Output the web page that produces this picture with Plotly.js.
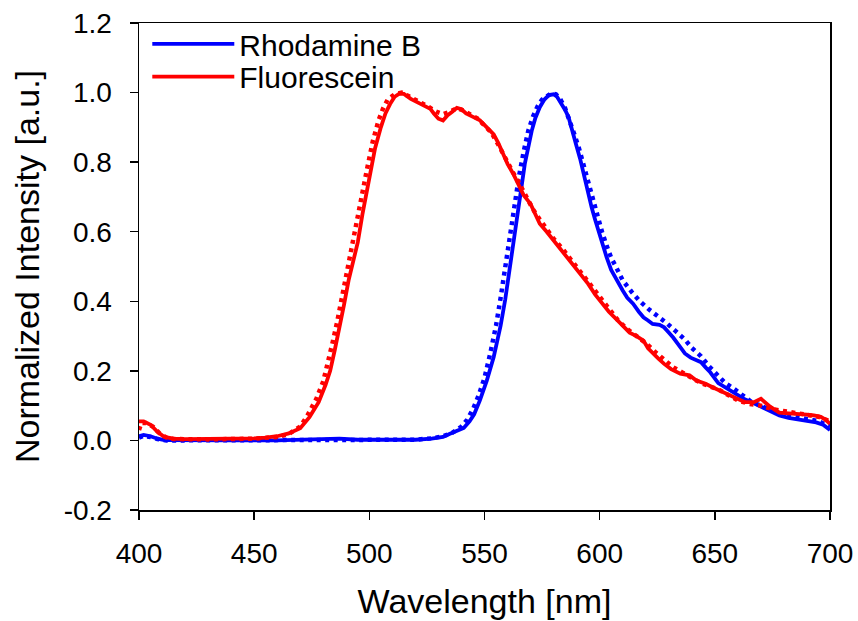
<!DOCTYPE html>
<html>
<head>
<meta charset="utf-8">
<script src="https://cdn.plot.ly/plotly-3.0.1.min.js"></script>
<style>html,body{margin:0;padding:0;background:#fff;}#chart{width:858px;height:621px;}</style>
</head>
<body>
<div id="chart"></div>
<script>
// Fluorescein, solid (measured)
const fluoSolidWl = [400,402,405,408,411,415,420,430,440,450,455,460,465,470,474,478,481,483,485,487,489,491,493,495,497,500,502.5,505,507,509,511,513,515,518,520,522,524,526.5,528,530,532,534,536,538,540,542,545,548,551,554,556,558,560,562.5,565,567,570,572,574,577,580,583,586,589,592,595,598,601,604,607,610,613,616,619,621,623,625.5,628,631,635,639,642,646,649,653,657,660,663,667,670,674,678,682,686,690,693,696,698,700];
const fluoSolidVal = [0.055,0.055,0.045,0.025,0.01,0.005,0.004,0.004,0.005,0.006,0.008,0.012,0.02,0.035,0.067,0.11,0.16,0.2,0.26,0.32,0.39,0.46,0.52,0.57,0.65,0.75,0.84,0.9,0.94,0.967,0.988,0.997,0.996,0.982,0.975,0.967,0.962,0.953,0.94,0.925,0.92,0.935,0.945,0.956,0.952,0.94,0.93,0.92,0.9,0.88,0.855,0.825,0.795,0.766,0.73,0.705,0.68,0.65,0.623,0.6,0.575,0.55,0.527,0.5,0.475,0.45,0.42,0.395,0.37,0.35,0.328,0.31,0.3,0.287,0.265,0.25,0.235,0.22,0.205,0.192,0.187,0.172,0.163,0.153,0.14,0.128,0.118,0.11,0.11,0.12,0.097,0.08,0.078,0.077,0.074,0.072,0.068,0.06,0.048];

// Fluorescein, dotted (reference)
const fluoDotWl = [400,401,403,406,409,412,415,430,450,460,465,470,473,477,480,482,484,486,488,490,492,494,496,499,501.5,504,506,508,511,514,517,520,523,526,529,532,535,538,541,544,547,550,553,556,559,562,565,568,571,574,577,580,584,588,592,596,600,604,608,612,616,620,624,628,632,636,640,644,648,652,656,660,665,670,675,680,685,690,695,700];
const fluoDotVal = [0.03,0.05,0.05,0.04,0.02,0.008,0.004,0.003,0.005,0.01,0.018,0.04,0.07,0.12,0.17,0.22,0.28,0.34,0.41,0.48,0.55,0.61,0.68,0.78,0.86,0.92,0.955,0.98,0.995,1.0,0.99,0.98,0.97,0.958,0.945,0.938,0.945,0.955,0.948,0.935,0.925,0.905,0.885,0.85,0.81,0.775,0.74,0.7,0.665,0.635,0.605,0.58,0.55,0.515,0.48,0.445,0.41,0.375,0.345,0.32,0.3,0.28,0.255,0.232,0.21,0.195,0.18,0.165,0.155,0.145,0.13,0.115,0.105,0.1,0.09,0.085,0.08,0.075,0.068,0.055];

// Rhodamine B, solid (measured)
const rhoSolidWl = [400,402,405,408,411,420,440,460,480,487,495,510,520,527,532,535,538,541,543.5,545.5,548,551,554,557,559,561,563,565.5,567.5,570.5,572,574,576,578,580,581.5,583.5,585,586.5,588.5,590,591.5,593.5,595,596.5,598,599.5,601.5,603,605,607,610,612,614.5,617,619,621,623,626,628,630,632,635,637,639.5,642,644,646,648,651.5,654,657,660,663,666,670,674,678,682,686,690,694,697,700];
const rhoSolidVal = [0.012,0.016,0.012,0.005,0.001,0.0,0.0,0.0,0.002,0.005,0.002,0.001,0.002,0.005,0.01,0.019,0.027,0.036,0.055,0.075,0.115,0.172,0.24,0.33,0.405,0.5,0.58,0.7,0.795,0.89,0.925,0.958,0.98,0.993,0.995,0.988,0.967,0.95,0.929,0.875,0.845,0.81,0.75,0.71,0.67,0.635,0.6,0.56,0.527,0.49,0.465,0.431,0.41,0.393,0.37,0.354,0.345,0.335,0.332,0.325,0.31,0.295,0.268,0.25,0.238,0.232,0.225,0.21,0.196,0.165,0.155,0.143,0.13,0.118,0.11,0.098,0.085,0.072,0.065,0.06,0.057,0.052,0.045,0.03];

// Rhodamine B, dotted (reference)
const rhoDotWl = [400,402,405,408,412,440,480,500,520,527,532,536,540,542.5,545,547.5,550,552.5,555,557,559,561,563,565,567,569,571,573,575,577,579,581,583,585,587,589,591,593,595,597,599,601,603,605,607,610,614,617.5,621.5,625.5,629.5,633,637,640,644,647.5,651,654.5,658,662,666,670,675,680,685,690,695,700];
const rhoDotVal = [0.008,0.013,0.01,0.004,0.0,0.0,0.0,0.0,0.002,0.006,0.012,0.022,0.04,0.06,0.09,0.13,0.18,0.25,0.33,0.41,0.5,0.59,0.68,0.76,0.83,0.89,0.93,0.96,0.98,0.99,0.998,0.995,0.98,0.955,0.92,0.88,0.84,0.79,0.74,0.69,0.64,0.6,0.56,0.525,0.5,0.46,0.426,0.4,0.376,0.356,0.335,0.314,0.29,0.266,0.242,0.213,0.191,0.165,0.15,0.13,0.11,0.1,0.085,0.075,0.068,0.062,0.055,0.04];

const seriesNames = ['Rhodamine B', 'Fluorescein'];
const xTicks = [400,450,500,550,600,650,700];
const yTicks = [-0.2,0.0,0.2,0.4,0.6,0.8,1.0,1.2];

const BLUE = '#0000ff', RED = '#ff0000';
const DOTS = '4px,4.5px';

const traces = [
  {x: rhoDotWl, y: rhoDotVal, mode: 'lines', line: {color: BLUE, width: 4.5, dash: DOTS}, showlegend: false, hoverinfo: 'skip'},
  {x: rhoSolidWl, y: rhoSolidVal, mode: 'lines', name: seriesNames[0], line: {color: BLUE, width: 3.8}, legend: 'legend'},
  {x: fluoDotWl, y: fluoDotVal, mode: 'lines', line: {color: RED, width: 4.5, dash: DOTS}, showlegend: false, hoverinfo: 'skip'},
  {x: fluoSolidWl, y: fluoSolidVal, mode: 'lines', name: seriesNames[1], line: {color: RED, width: 3.8}, legend: 'legend2'}
];

const FONT = 'Liberation Sans, Arial, sans-serif';
const legendBase = {xanchor: 'left', yanchor: 'middle', bgcolor: 'rgba(0,0,0,0)', borderwidth: 0,
                    font: {family: FONT, size: 30, color: '#000'}, itemwidth: 82};
const layout = {
  width: 858, height: 621,
  margin: {l: 139, r: 28, t: 23, b: 111},
  paper_bgcolor: '#fff', plot_bgcolor: '#fff',
  font: {family: FONT, color: '#000', size: 28},
  showlegend: true,
  legend: Object.assign({x: 0.012, y: 0.957}, legendBase),
  legend2: Object.assign({x: 0.012, y: 0.890}, legendBase),
  xaxis: {
    range: [400, 700], tickvals: xTicks, ticktext: xTicks.map(String),
    ticks: 'outside', ticklen: 8, tickwidth: 1.5, tickcolor: '#000',
    showline: true, linecolor: '#000', linewidth: 1.5, mirror: true,
    showgrid: false, zeroline: false, ticklabelstandoff: 10,
    tickfont: {family: FONT, size: 28, color: '#000'},
    title: {text: 'Wavelength [nm]', font: {family: FONT, size: 34, color: '#000'}, standoff: 21}
  },
  yaxis: {
    range: [-0.2, 1.2], tickvals: yTicks, ticktext: yTicks.map(v => v.toFixed(1)),
    ticks: 'outside', ticklen: 8, tickwidth: 1.5, tickcolor: '#000',
    showline: true, linecolor: '#000', linewidth: 1.5, mirror: true,
    showgrid: false, zeroline: false, ticklabelstandoff: 12,
    tickfont: {family: FONT, size: 28, color: '#000'},
    title: {text: 'Normalized Intensity [a.u.]', font: {family: FONT, size: 34, color: '#000'}, standoff: 14}
  }
};

Plotly.newPlot('chart', traces, layout, {displayModeBar: false, staticPlot: true});
</script>
</body>
</html>
